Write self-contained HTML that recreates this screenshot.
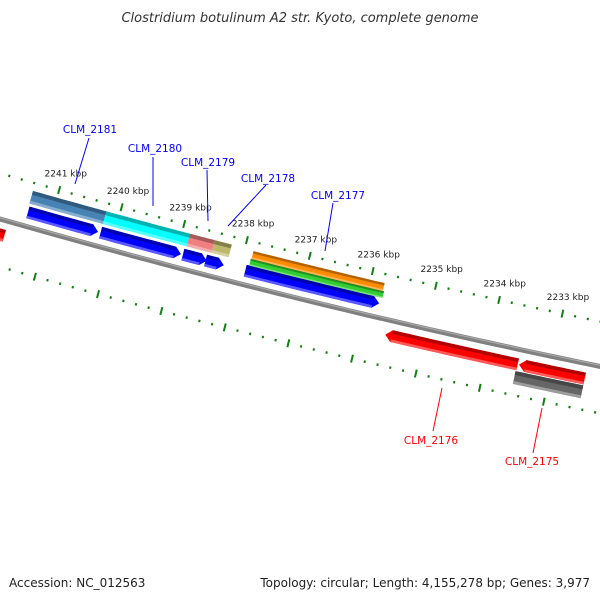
<!DOCTYPE html>
<html><head><meta charset="utf-8"><style>
html,body{margin:0;padding:0;background:#fff}
svg{display:block;font-family:"DejaVu Sans","Liberation Sans",sans-serif}
</style></head><body>
<svg id="map" width="600" height="600" viewBox="0 0 600 600">
<text x="300" y="22" text-anchor="middle" font-size="13" font-style="italic" fill="#333">Clostridium botulinum A2 str. Kyoto, complete genome</text>
<text x="9" y="587" font-size="12" fill="#222">Accession: NC_012563</text>
<text x="590" y="587" font-size="12" fill="#222" text-anchor="end">Topology: circular; Length: 4,155,278 bp; Genes: 3,977</text>
<g id="layer"></g>
</svg>
<script>
// ---- data (kbp) ----
const tickLabels = [2241,2240,2239,2238,2237,2236,2235,2234,2233];
const featNames = ["blue1","blue2","blue3","blue4","blue5","steelblue","cyan","salmon","khaki","green","orange","red0","red1","red2","gray"];
const featStart = [2241.37,2240.21,2238.90,2238.54,2237.91,2241.385,2240.21,2238.877,2238.48,2237.87,2237.86,2241.9,2235.59,2233.49,2233.52];
const featEnd   = [2240.25,2238.93,2238.52,2238.25,2235.79,2240.21,2238.877,2238.48,2238.21,2235.76,2235.78,2241.62,2233.51,2232.46,2232.46];
const featType  = ["fwd","fwd","fwd","fwd","fwd","box","box","box","box","box","box","rev","rev","rev","box"];
const featOff1  = [8,8,8,8,8,23,23,23,23,20,27,-21,-21,-21,-35];
const featOff2  = [20,20,20,20,20,36,36,36,36,27,35,-9,-9,-9,-22];
const featColor = ["#0000ff","#0000ff","#0000ff","#0000ff","#0000ff","#4682b4","#00ffff","#f08080","#bdb76b","#32cd32","#ff8c00","#ff0000","#ff0000","#ff0000","#666666"];
const geneLabels = ["CLM_2181","CLM_2180","CLM_2179","CLM_2178","CLM_2177","CLM_2176","CLM_2175"];
const geneLabelColor = ["#0000ff","#0000ff","#0000ff","#0000ff","#0000ff","#ff0000","#ff0000"];
const geneLabelPos = [[90,133],[155,152],[208,166],[268,182],[338,199],[431,444],[532,465]];
const geneLineStart = [[89,138],[153,157],[207,170],[266,185],[333,203],[442,388],[542,408]];
const geneLineEnd = [[75,184],[153,206],[208,221],[228,226],[325,251],[433,431],[533,453]];

// ---- geometry ----
function circ(a,b,c){const d=2*(a[0]*(b[1]-c[1])+b[0]*(c[1]-a[1])+c[0]*(a[1]-b[1]));
 const s1=a[0]*a[0]+a[1]*a[1],s2=b[0]*b[0]+b[1]*b[1],s3=c[0]*c[0]+c[1]*c[1];
 const ux=(s1*(b[1]-c[1])+s2*(c[1]-a[1])+s3*(a[1]-b[1]))/d, uy=(s1*(c[0]-b[0])+s2*(a[0]-c[0])+s3*(b[0]-a[0]))/d;
 return [ux,uy,Math.hypot(a[0]-ux,a[1]-uy)];}
const [CX,CY,R]=circ([0,219],[380,318],[598,366]);
const angA=Math.atan2(187-CY,60-CX), angB=Math.atan2(311-CY,563-CX);
function ang(bp){return angA+(bp-2241)*(angB-angA)/(2233-2241);}
function pt(bp,off){const a=ang(bp),r=R-off;return [CX+r*Math.cos(a),CY+r*Math.sin(a)];}
function arcPts(b1,b2,off,n){const p=[];for(let i=0;i<=n;i++){p.push(pt(b1+(b2-b1)*i/n,off));}return p;}
const NS="http://www.w3.org/2000/svg", L=document.getElementById('layer');
function mk(tag,at){const e=document.createElementNS(NS,tag);for(const k in at)e.setAttribute(k,at[k]);L.appendChild(e);return e;}
function poly(p){return "M"+p.map(q=>q[0].toFixed(2)+","+q[1].toFixed(2)).join("L")+"Z";}
function shade(c,f){const n=parseInt(c.slice(1),16);let r=n>>16,g=(n>>8)&255,b=n&255;
 if(f<0){r*=1+f;g*=1+f;b*=1+f;}else{r+=(255-r)*f;g+=(255-g)*f;b+=(255-b)*f;}
 return "rgb("+[r,g,b].map(v=>Math.round(v)).join(",")+")";}

// backbone
const bb=arcPts(2242.5,2231.5,0,60);
const bbEl=mk('path',{d:"M"+bb.map(q=>q[0].toFixed(2)+","+q[1].toFixed(2)).join("L"),stroke:"#808080","stroke-width":5,fill:"none"});


const bb2=mk('path',{d:"M"+arcPts(2242.5,2231.5,1.2,60).map(q=>q[0].toFixed(2)+","+q[1].toFixed(2)).join("L"),stroke:"#a8a8a8","stroke-width":1.2,fill:"none"});



// ticks
[44,-46].forEach((ring,ri)=>{
 for(let k=0;k<=55;k++){const bp=2242.6-k*0.2;const major=Math.abs(bp-Math.round(bp))<0.01;
  const h=major?4:1.2;const a=pt(bp,ring-h),b=pt(bp,ring+h);
  const t=mk('line',{x1:a[0],y1:a[1],x2:b[0],y2:b[1],stroke:"#128012","stroke-width":major?2:2});
  
  }
});
tickLabels.forEach(v=>{const p=pt(v,61);const t=mk('text',{x:p[0]+2,y:p[1]+3,"text-anchor":"middle","font-size":"9",fill:"#222"});
 t.textContent=v+" kbp";
 
 });

// features
featNames.forEach((nm,i)=>{
 const s=featStart[i],e=featEnd[i],o1=featOff1[i],o2=featOff2[i],c=featColor[i],ty=featType[i];
 const tipBp=0.1, mid=(o1+o2)/2; let p;
 if(ty==="fwd"){p=arcPts(s,e+tipBp,o2,16).concat([pt(e,mid)]).concat(arcPts(e+tipBp,s,o1,16));}
 else if(ty==="rev"){p=[pt(s,mid)].concat(arcPts(s-tipBp,e,o2,16)).concat(arcPts(e,s-tipBp,o1,16));}
 else{p=arcPts(s,e,o2,16).concat(arcPts(e,s,o1,16));}
 const g=mk('path',{d:poly(p),fill:c});
 
 
 const hs=ty==="fwd"?s:(ty==="rev"?s-tipBp:s), he=ty==="fwd"?e+tipBp:e;
 const h=(o2-o1);
 const top=arcPts(hs,he,o2,16).concat(arcPts(he,hs,o2-h*0.3,16));
 const t=mk('path',{d:poly(top),fill:shade(c,-0.3)});
 
 
 const bot=arcPts(hs,he,o1+h*0.22,16).concat(arcPts(he,hs,o1,16));
 const b=mk('path',{d:poly(bot),fill:shade(c,0.35)});
 
 
});

// gene labels
geneLabels.forEach((g,i)=>{
 const ln=mk('line',{x1:geneLineStart[i][0],y1:geneLineStart[i][1],x2:geneLineEnd[i][0],y2:geneLineEnd[i][1],stroke:geneLabelColor[i],"stroke-width":1});
 
 
 const t=mk('text',{x:geneLabelPos[i][0],y:geneLabelPos[i][1],"text-anchor":"middle","font-size":"10.5",fill:geneLabelColor[i]});
 t.textContent=g;
 
 
});
</script>
</body></html>
